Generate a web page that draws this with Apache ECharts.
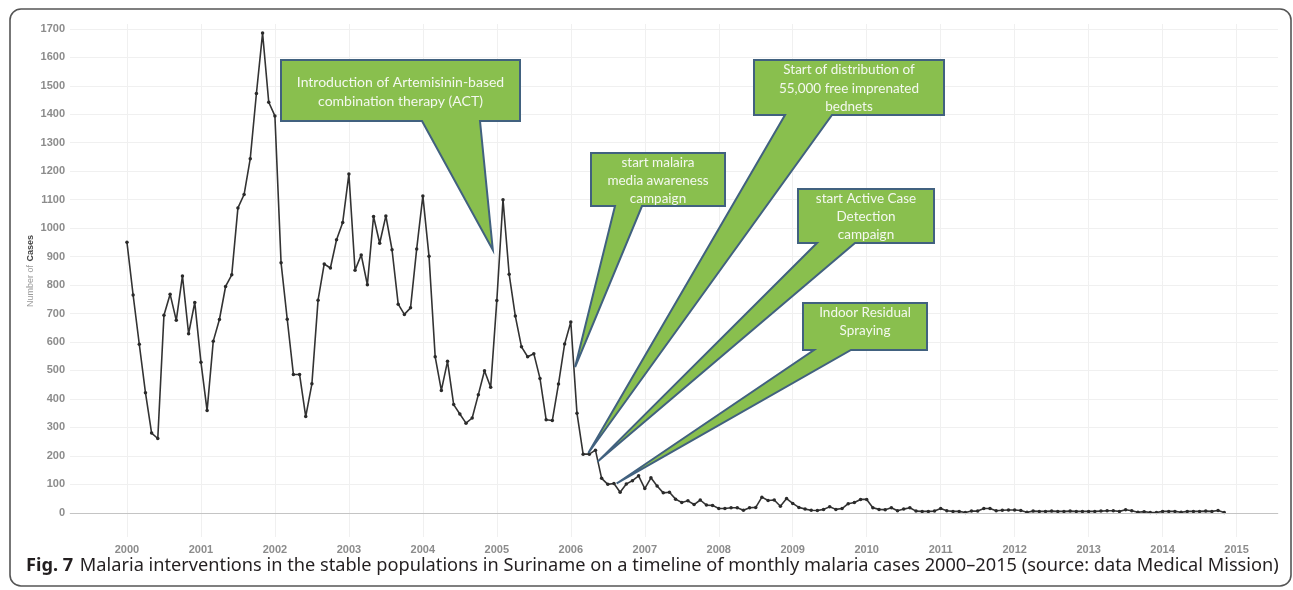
<!DOCTYPE html>
<html><head><meta charset="utf-8">
<script src="https://cdn.jsdelivr.net/npm/echarts@6/dist/echarts.min.js"></script>
<style>html,body{margin:0;padding:0;background:#fff}#c{width:1293px;height:590px}</style>
</head><body><div id="c"></div>
<script>
// ---- data (monthly malaria cases, Jan 2000 – Nov 2014) ----
const startYear = 2000;
const cases2000 = [950, 765, 592, 422, 280, 261, 694, 768, 676, 832, 629, 739];
const cases2001 = [529, 359, 603, 679, 795, 836, 1071, 1118, 1244, 1473, 1685, 1442];
const cases2002 = [1394, 878, 680, 486, 486, 338, 453, 747, 874, 860, 959, 1020];
const cases2003 = [1190, 852, 906, 801, 1041, 947, 1043, 924, 733, 697, 720, 927];
const cases2004 = [1113, 901, 548, 430, 532, 380, 347, 315, 333, 415, 499, 441];
const cases2005 = [746, 1100, 838, 691, 583, 548, 559, 472, 327, 324, 452, 593];
const cases2006 = [670, 350, 206, 206, 220, 121, 100, 103, 72, 101, 113, 130];
const cases2007 = [85, 123, 94, 70, 72, 48, 36, 42, 29, 45, 27, 26];
const cases2008 = [15, 15, 18, 18, 9, 18, 19, 55, 43, 45, 23, 50];
const cases2009 = [33, 19, 13, 9, 8, 12, 21, 12, 15, 32, 36, 47];
const cases2010 = [47, 18, 12, 11, 18, 7, 13, 18, 6, 5, 5, 6];
const cases2011 = [15, 7, 5, 5, 1, 6, 6, 15, 15, 7, 9, 10];
const cases2012 = [10, 8, 2, 6, 5, 5, 6, 5, 5, 6, 5, 5];
const cases2013 = [5, 5, 6, 7, 7, 5, 11, 7, 2, 4, 1, 1];
const cases2014 = [5, 5, 5, 2, 5, 5, 5, 6, 5, 8, 1];

const yearTicks = [2000, 2001, 2002, 2003, 2004, 2005, 2006, 2007, 2008, 2009, 2010, 2011, 2012, 2013, 2014, 2015];
const yTicks = [0, 100, 200, 300, 400, 500, 600, 700, 800, 900, 1000, 1100, 1200, 1300, 1400, 1500, 1600, 1700];

const calloutTexts = [
  ['Introduction of Artemisinin-based', 'combination therapy (ACT)'],
  ['start malaira', 'media awareness', 'campaign'],
  ['Start of distribution of', '55,000 free imprenated', 'bednets'],
  ['start Active Case', 'Detection', 'campaign'],
  ['Indoor Residual', 'Spraying']
];
// tip targets of the callout pointers, in data coordinates [year, cases]
const calloutTargets = [
  [2004.946, 923],
  [2006.058, 512],
  [2006.237, 210],
  [2006.36, 179],
  [2006.62, 103]
];
const captionBold = 'Fig. 7';
const captionText = 'Malaria interventions in the stable populations in Suriname on a timeline of monthly malaria cases 2000–2015 (source: data Medical Mission)';

// ---- build ----
const allCases = [].concat(cases2000, cases2001, cases2002, cases2003, cases2004, cases2005, cases2006,
  cases2007, cases2008, cases2009, cases2010, cases2011, cases2012, cases2013, cases2014);
const seriesData = allCases.map((v, i) => [startYear + i / 12, v]);

const chart = echarts.init(document.getElementById('c'), null, {renderer: 'canvas'});
const labelFont = {fontFamily: 'Liberation Sans', fontSize: 11, color: '#8c8c8c', fontWeight: 'bold'};

const option = {
  animation: false,
  backgroundColor: '#fff',
  grid: {left: 70, right: 15, top: 24, bottom: 53, containLabel: false},
  xAxis: {
    type: 'value', min: 1999.23, max: 2015.56,
    axisLine: {show: true, lineStyle: {color: '#e6e6e6', width: 1}},
    axisTick: {show: false, customValues: yearTicks},
    axisLabel: Object.assign({customValues: yearTicks, margin: 7, formatter: v => String(Math.round(v))}, labelFont),
    splitLine: {show: true, lineStyle: {color: '#f0f0f0', width: 1}}
  },
  yAxis: {
    type: 'value', min: -85, max: 1717,
    axisLine: {show: false},
    axisTick: {show: false, customValues: yTicks},
    axisLabel: Object.assign({customValues: yTicks, margin: 5, formatter: v => String(Math.round(v))}, labelFont),
    splitLine: {show: true, lineStyle: {color: '#f0f0f0', width: 1}}
  },
  series: [{
    type: 'line',
    data: seriesData,
    symbol: 'circle',
    symbolSize: 3.5,
    showSymbol: true,
    lineStyle: {color: '#333', width: 1.6},
    itemStyle: {color: '#2a2a2a'},
    z: 3,
    markLine: {
      silent: true, symbol: 'none', label: {show: false},
      lineStyle: {color: '#c4c4c4', width: 1, type: 'solid'},
      data: [{yAxis: 0}]
    }
  }]
};
chart.setOption(option);

// callout boxes layout (pixels): [left, top, right, bottom, tailBaseLeft, tailBaseRight, fontSize, lineGap]
const boxLayout = [
  [281, 60, 520, 121, 422, 480, 14, 19.5],
  [591, 153, 725, 206, 615, 642, 13.5, 18],
  [754, 60, 944, 115, 785, 832, 13.5, 18.3],
  [798, 189, 934, 243, 817, 855, 13.5, 18],
  [803, 303, 927, 350, 814, 851, 13.5, 17.5]
];
const graphics = [];
// outer frame
graphics.push({type: 'rect', shape: {x: 10, y: 9, width: 1281, height: 577, r: 11},
  style: {fill: 'none', stroke: '#555', lineWidth: 1.6}, z: 10, silent: true});
// y axis title
graphics.push({type: 'text', x: 31, y: 271, rotation: Math.PI / 2,
  style: {text: '{a|Number of} {b|Cases}', align: 'center', verticalAlign: 'middle',
    rich: {a: {fontFamily: 'Liberation Sans Narrow, Liberation Sans', fontSize: 9, fill: '#9a9a9a', color: '#9a9a9a'},
           b: {fontFamily: 'Liberation Sans', fontSize: 9, fontWeight: 'bold', fill: '#444', color: '#444'}}},
  z: 10, silent: true});
// caption
graphics.push({type: 'text', x: 26, y: 566,
  style: {text: '{a|' + captionBold + '}  {b|' + captionText + '}', align: 'left', verticalAlign: 'middle',
    rich: {a: {fontFamily: 'Noto Sans', fontSize: 18.2, fontWeight: 'bold', fill: '#231f20', color: '#231f20'},
           b: {fontFamily: 'Noto Sans', fontSize: 18.2, fill: '#231f20', color: '#231f20'}}},
  z: 10, silent: true});

calloutTexts.forEach((lines, k) => {
  const [l, t, r, b, bl, br, fs, gap] = boxLayout[k];
  const tip = chart.convertToPixel({gridIndex: 0}, calloutTargets[k]);
  graphics.push({type: 'polygon', z: 20, silent: true,
    shape: {points: [[l, t], [r, t], [r, b], [br, b], tip, [bl, b], [l, b]]},
    style: {fill: '#89bf4e', stroke: '#41617f', lineWidth: 2, lineJoin: 'miter'}});
  const cx = (l + r) / 2;
  const y0 = t + 10 + (k === 0 ? 12 : 0);
  lines.forEach((s, j) => {
    graphics.push({type: 'text', z: 21, silent: true, x: cx, y: y0 + j * gap,
      style: {text: s, fill: '#f4f8ef', fontFamily: 'Lato', fontSize: fs, align: 'center', verticalAlign: 'middle'}});
  });
});
chart.setOption({graphic: {elements: graphics}});
</script>
</body></html>
